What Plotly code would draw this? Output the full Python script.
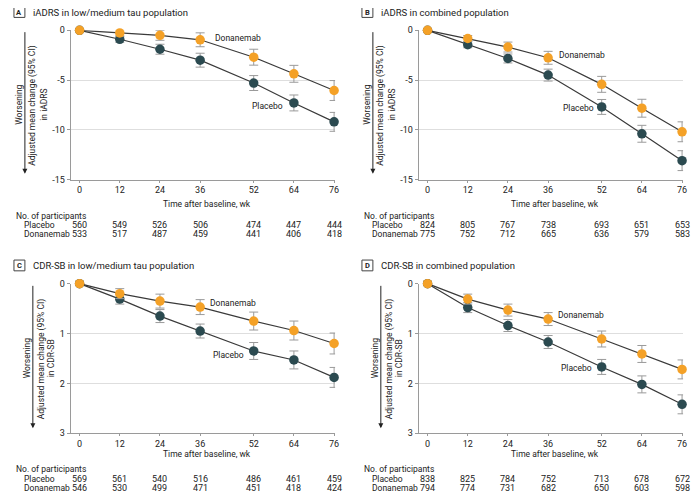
import plotly.graph_objects as go

# The page body has an 8 px margin, so the figure is drawn 8 px smaller and
# all layout positions below are given in window pixels, then shifted.
OFF = 8
W, H = 700 - OFF, 498 - OFF

weeks = [0, 12, 24, 36, 52, 64, 76]

# Panel A: iADRS in low/medium tau population
a_placebo = [0, -0.9, -1.9, -3.0, -5.3, -7.3, -9.2]
a_placebo_ci = [0, 0.3, 0.5, 0.7, 0.75, 0.8, 0.95]
a_donan = [0, -0.26, -0.5, -0.95, -2.7, -4.37, -6.05]
a_donan_ci = [0, 0.3, 0.5, 0.7, 0.8, 0.85, 1.0]

# Panel B: iADRS in combined population
b_placebo = [0, -1.45, -2.83, -4.5, -7.7, -10.4, -13.1]
b_placebo_ci = [0, 0.3, 0.45, 0.6, 0.75, 0.85, 1.0]
b_donan = [0, -0.82, -1.68, -2.76, -5.43, -7.83, -10.2]
b_donan_ci = [0, 0.3, 0.5, 0.65, 0.8, 0.9, 1.0]

# Panel C: CDR-SB in low/medium tau population
c_placebo = [0, 0.31, 0.65, 0.95, 1.35, 1.53, 1.88]
c_placebo_ci = [0, 0.1, 0.13, 0.14, 0.17, 0.18, 0.2]
c_donan = [0, 0.2, 0.35, 0.47, 0.75, 0.94, 1.2]
c_donan_ci = [0, 0.1, 0.14, 0.15, 0.18, 0.19, 0.21]

# Panel D: CDR-SB in combined population
d_placebo = [0, 0.48, 0.84, 1.17, 1.67, 2.02, 2.42]
d_placebo_ci = [0, 0.1, 0.12, 0.13, 0.15, 0.17, 0.19]
d_donan = [0, 0.31, 0.53, 0.71, 1.11, 1.41, 1.72]
d_donan_ci = [0, 0.1, 0.12, 0.13, 0.16, 0.17, 0.19]

# Number of participants
a_n_placebo = [560, 549, 526, 506, 474, 447, 444]
a_n_donan = [533, 517, 487, 459, 441, 406, 418]
b_n_placebo = [824, 805, 767, 738, 693, 651, 653]
b_n_donan = [775, 752, 712, 665, 636, 579, 583]
c_n_placebo = [569, 561, 540, 516, 486, 461, 459]
c_n_donan = [546, 530, 499, 471, 451, 418, 424]
d_n_placebo = [838, 825, 784, 752, 713, 678, 672]
d_n_donan = [794, 774, 731, 682, 650, 603, 598]

titles = ["iADRS in low/medium tau population", "iADRS in combined population",
          "CDR-SB in low/medium tau population", "CDR-SB in combined population"]
letters = ["A", "B", "C", "D"]
ytitles = ["iADRS", "iADRS", "CDR-SB", "CDR-SB"]
iadrs_ticks = [0, -5, -10, -15]
iadrs_ticktext = ["0", "-5", "-10", "-15"]
cdr_ticks = [0, 1, 2, 3]
cdr_ticktext = ["0", "1", "2", "3"]

FONT = "Roboto, Arial, sans-serif"
FS_TXT = 8.5
FS_NUM = 9
PLACEBO_C = "#2b4a50"
DONAN_C = "#f4a127"
LINE_C = "#3a3a3a"
ERR_C = "#9a9a9a"
AXIS_C = "#9a9a9a"
GRID_C = "#dedede"
TXT = "#222222"


def px(x):
    return (x - OFF) / W


def py(y):
    return 1 - (y - OFF) / H


panels = [
    dict(placebo=a_placebo, pci=a_placebo_ci, donan=a_donan, dci=a_donan_ci,
         np=a_n_placebo, nd=a_n_donan, ox=0, oy=0, kind="iadrs",
         dlab=(39.8, -0.76), plab=(61.2, -7.6)),
    dict(placebo=b_placebo, pci=b_placebo_ci, donan=b_donan, dci=b_donan_ci,
         np=b_n_placebo, nd=b_n_donan, ox=350, oy=0, kind="iadrs",
         dlab=(38.6, -2.5), plab=(50.2, -7.83)),
    dict(placebo=c_placebo, pci=c_placebo_ci, donan=c_donan, dci=c_donan_ci,
         np=c_n_placebo, nd=c_n_donan, ox=0, oy=1, kind="cdr",
         dlab=(38.3, 0.39), plab=(49.6, 1.43)),
    dict(placebo=d_placebo, pci=d_placebo_ci, donan=d_donan, dci=d_donan_ci,
         np=d_n_placebo, nd=d_n_donan, ox=350, oy=1, kind="cdr",
         dlab=(38.3, 0.63), plab=(49.6, 1.70)),
]

fig = go.Figure()
annotations = []
shapes = []
layout = {}

for i, p in enumerate(panels):
    k = "" if i == 0 else str(i + 1)
    xa, ya = "x" + k, "y" + k
    ox = p["ox"]
    if p["oy"] == 0:
        top, bot = 25.7, 178.0
        title_y = 7.0
        rows = dict(time=203, no=215.5, pl=224.8, dn=234)
        arrow = (29, 172)
        ytx = dict(wors=19, arr=25, adj=33, inl=44)
    else:
        top, bot = 284.3, 437.0
        title_y = 265.7
        rows = dict(time=458, no=474, pl=483.9, dn=493.4)
        arrow = (288, 432)
        ytx = dict(wors=28, arr=33, adj=42, inl=52)

    for name, yv, ci, col in [("Placebo", p["placebo"], p["pci"], PLACEBO_C),
                              ("Donanemab", p["donan"], p["dci"], DONAN_C)]:
        fig.add_trace(go.Scatter(
            x=weeks, y=yv, mode="lines+markers", name=name, xaxis=xa, yaxis=ya,
            line=dict(color=LINE_C, width=1.2),
            marker=dict(color=col, size=9.5, line=dict(width=0)),
            error_y=dict(type="data", array=ci, visible=True, color=ERR_C,
                         thickness=1, width=4.5),
            cliponaxis=False, showlegend=False, hoverinfo="x+y"))

    if p["kind"] == "iadrs":
        yrange = [-15, 0]
        tv, tt = iadrs_ticks, iadrs_ticktext
    else:
        yrange = [3, 0]
        tv, tt = cdr_ticks, cdr_ticktext

    layout["xaxis" + k] = dict(
        domain=[px(ox + 71), px(ox + 337)], range=[-2.67, 76.3], anchor=ya,
        tickvals=weeks, ticktext=[str(w) for w in weeks], ticks="outside",
        ticklen=2, tickcolor=AXIS_C, showline=True, linecolor=AXIS_C, linewidth=1,
        showgrid=False, zeroline=False, fixedrange=True,
        tickfont=dict(family=FONT, size=FS_NUM, color=TXT))
    layout["yaxis" + k] = dict(
        domain=[py(bot), py(top)], range=yrange, anchor=xa,
        tickvals=tv, ticktext=tt, ticks="outside", ticklen=3, tickcolor=AXIS_C,
        showline=True, linecolor=AXIS_C, linewidth=1, showgrid=True,
        gridcolor=GRID_C, gridwidth=1, zeroline=False, fixedrange=True,
        tickfont=dict(family=FONT, size=FS_NUM, color=TXT))

    # panel letter box and title
    shapes.append(dict(type="rect", xref="paper", yref="paper",
                       x0=px(ox + 14), x1=px(ox + 25),
                       y0=py(title_y - 5.5), y1=py(title_y + 5.5),
                       line=dict(color="#444", width=1), fillcolor="white"))
    annotations.append(dict(text="<b>%s</b>" % letters[i], xref="paper", yref="paper",
                            x=px(ox + 19.5), y=py(title_y), showarrow=False,
                            xanchor="center", yanchor="middle",
                            font=dict(family=FONT, size=7.5, color=TXT)))
    annotations.append(dict(text=titles[i], xref="paper", yref="paper",
                            x=px(ox + 31), y=py(title_y), showarrow=False,
                            xanchor="left", yanchor="middle",
                            font=dict(family=FONT, size=9.5, color=TXT)))

    # y-axis titles
    mid = (top + bot) / 2
    for key, txt in [("wors", "Worsening"), ("adj", "Adjusted mean change (95% CI)"),
                     ("inl", "in " + ytitles[i])]:
        annotations.append(dict(text=txt, xref="paper", yref="paper",
                                x=px(ox + ytx[key]), y=py(mid), textangle=-90,
                                showarrow=False, xanchor="center", yanchor="middle",
                                font=dict(family=FONT, size=FS_TXT, color=TXT)))
    annotations.append(dict(text="", xref="paper", yref="paper",
                            x=px(ox + ytx["arr"]), y=py(arrow[1]),
                            ax=0, ay=-(arrow[1] - arrow[0]), axref="pixel", ayref="pixel",
                            showarrow=True, arrowhead=2, arrowsize=1, arrowwidth=1,
                            arrowcolor="#222"))

    # series labels
    annotations.append(dict(text="Donanemab", xref=xa, yref=ya,
                            x=p["dlab"][0], y=p["dlab"][1], showarrow=False,
                            xanchor="left", yanchor="middle",
                            font=dict(family=FONT, size=FS_TXT, color=TXT)))
    annotations.append(dict(text="Placebo", xref=xa, yref=ya,
                            x=p["plab"][0], y=p["plab"][1], showarrow=False,
                            xanchor="right", yanchor="middle",
                            font=dict(family=FONT, size=FS_TXT, color=TXT)))

    # x-axis title
    annotations.append(dict(text="Time after baseline, wk", xref=xa, yref="paper",
                            x=38, y=py(rows["time"]), showarrow=False,
                            xanchor="center", yanchor="middle",
                            font=dict(family=FONT, size=FS_TXT, color=TXT)))
    # participants table
    annotations.append(dict(text="No. of participants", xref="paper", yref="paper",
                            x=px(ox + 14), y=py(rows["no"]), showarrow=False,
                            xanchor="left", yanchor="middle",
                            font=dict(family=FONT, size=FS_TXT, color=TXT)))
    for lab, row, vals in [("Placebo", "pl", p["np"]), ("Donanemab", "dn", p["nd"])]:
        annotations.append(dict(text=lab, xref="paper", yref="paper",
                                x=px(ox + 22.5), y=py(rows[row]), showarrow=False,
                                xanchor="left", yanchor="middle",
                                font=dict(family=FONT, size=FS_TXT, color=TXT)))
        for w, v in zip(weeks, vals):
            annotations.append(dict(text=str(v), xref=xa, yref="paper",
                                    x=w, y=py(rows[row]), showarrow=False,
                                    xanchor="center", yanchor="middle",
                                    font=dict(family=FONT, size=FS_NUM, color=TXT)))

fig.update_layout(
    width=W, height=H, margin=dict(l=0, r=0, t=0, b=0),
    paper_bgcolor="white", plot_bgcolor="white",
    annotations=annotations, shapes=shapes,
    font=dict(family=FONT, size=FS_TXT, color=TXT),
    **layout)

fig.write_html("out.html")
